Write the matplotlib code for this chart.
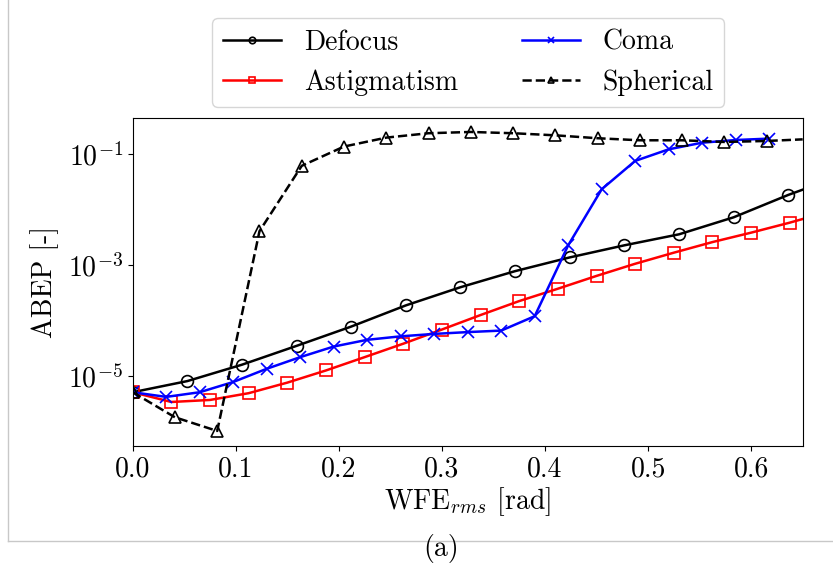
import matplotlib
matplotlib.use('Agg')
import matplotlib.pyplot as plt
from matplotlib.lines import Line2D
from matplotlib.ticker import FixedLocator, NullLocator

plt.rcParams['font.family'] = 'serif'
plt.rcParams['font.serif'] = ['cmr10', 'DejaVu Serif']
plt.rcParams['mathtext.fontset'] = 'cm'
plt.rcParams['axes.formatter.use_mathtext'] = True
plt.rcParams['font.size'] = 20

# values (last point of some series = line end at right edge, no marker)
defocus_x = [0.0, 0.053, 0.106, 0.159, 0.212, 0.265, 0.318, 0.371, 0.424, 0.477, 0.530, 0.583, 0.636, 0.65]
defocus_y = [5.1e-6, 8.1e-6, 1.6e-5, 3.5e-5, 7.8e-5, 1.88e-4, 4.0e-4, 7.8e-4, 1.38e-3, 2.28e-3, 3.6e-3, 7.3e-3, 1.85e-2, 2.3e-2]

astig_x = [0.0, 0.0375, 0.075, 0.1125, 0.15, 0.1875, 0.225, 0.2625, 0.3, 0.3375, 0.375, 0.4125,
           0.45, 0.4875, 0.525, 0.5625, 0.6, 0.6375, 0.65]
astig_y = [5.1e-6, 3.4e-6, 3.7e-6, 4.9e-6, 7.6e-6, 1.26e-5, 2.19e-5, 3.83e-5, 6.9e-5, 1.26e-4, 2.25e-4,
           3.76e-4, 6.4e-4, 1.06e-3, 1.68e-3, 2.61e-3, 3.86e-3, 5.85e-3, 6.8e-3]

coma_x = [0.0, 0.0325, 0.065, 0.0975, 0.13, 0.1625, 0.195, 0.2275, 0.26, 0.2925, 0.325, 0.3575,
          0.39, 0.4225, 0.455, 0.4875, 0.52, 0.5525, 0.585, 0.6175]
coma_y = [5.1e-6, 4.2e-6, 5.1e-6, 7.8e-6, 1.35e-5, 2.19e-5, 3.4e-5, 4.5e-5, 5.2e-5, 5.75e-5, 6.2e-5,
          6.6e-5, 1.2e-4, 2.28e-3, 2.34e-2, 7.6e-2, 0.123, 0.162, 0.181, 0.192]

spher_x = [0.0, 0.041, 0.082, 0.123, 0.164, 0.205, 0.246, 0.287, 0.328, 0.369, 0.41, 0.451,
           0.492, 0.533, 0.574, 0.615, 0.65]
spher_y = [5.1e-6, 1.8e-6, 1.02e-6, 4.1e-3, 6.2e-2, 0.138, 0.2, 0.24, 0.253, 0.24, 0.22, 0.195,
           0.179, 0.179, 0.167, 0.174, 0.186]

fig = plt.figure(figsize=(8.33, 5.65), dpi=100)
ax = fig.add_axes([0.1593, 0.2106, 0.8043, 0.58])

ax.plot(defocus_x, defocus_y, '-', color='black', marker='o', mfc='none', ms=8.5, mew=1.2,
        lw=1.8, markevery=slice(0, -1), label='Defocus')
ax.plot(astig_x, astig_y, '-', color='red', marker='s', mfc='none', ms=8.5, mew=1.2,
        lw=1.8, markevery=slice(0, -1), label='Astigmatism')
ax.plot(coma_x, coma_y, '-', color='blue', marker='x', ms=8.5, mew=1.2, lw=1.8, label='Coma')
ax.plot(spher_x, spher_y, '--', color='black', marker='^', mfc='none', ms=8.5, mew=1.2,
        lw=1.8, markevery=slice(0, -1), label='Spherical')

ax.set_yscale('log')
ax.set_xlim(0, 0.65)
ax.set_ylim(5.46e-7, 0.446)
ax.yaxis.set_major_locator(FixedLocator([1e-5, 1e-3, 1e-1]))
ax.yaxis.set_minor_locator(NullLocator())
ax.set_xticks([0.0, 0.1, 0.2, 0.3, 0.4, 0.5, 0.6])
ax.set_xticklabels(['0.0', '0.1', '0.2', '0.3', '0.4', '0.5', '0.6'])
ax.set_xlabel(r'WFE$_{rms}$ [rad]', labelpad=2)
ax.set_ylabel('ABEP [-]', labelpad=6)

h, l = ax.get_legend_handles_labels()
fig.legend([h[0], h[1], h[2], h[3]], [l[0], l[1], l[2], l[3]], loc='upper center',
           bbox_to_anchor=(0.562, 0.968), borderaxespad=0, ncol=2, markerscale=0.55,
           columnspacing=2.3, handlelength=2.1, borderpad=0.4, labelspacing=0.5)

# frame lines of the sub-figure and caption
fig.add_artist(Line2D([0.0096, 0.0096], [1.0, 0.0425], color='#c8c8c8', lw=1))
fig.add_artist(Line2D([0.0096, 1.0], [0.0425, 0.0425], color='#c8c8c8', lw=1))
fig.text(0.529, 0.030, '(a)', ha='center', va='center')

fig.savefig('out.png', dpi=100)
